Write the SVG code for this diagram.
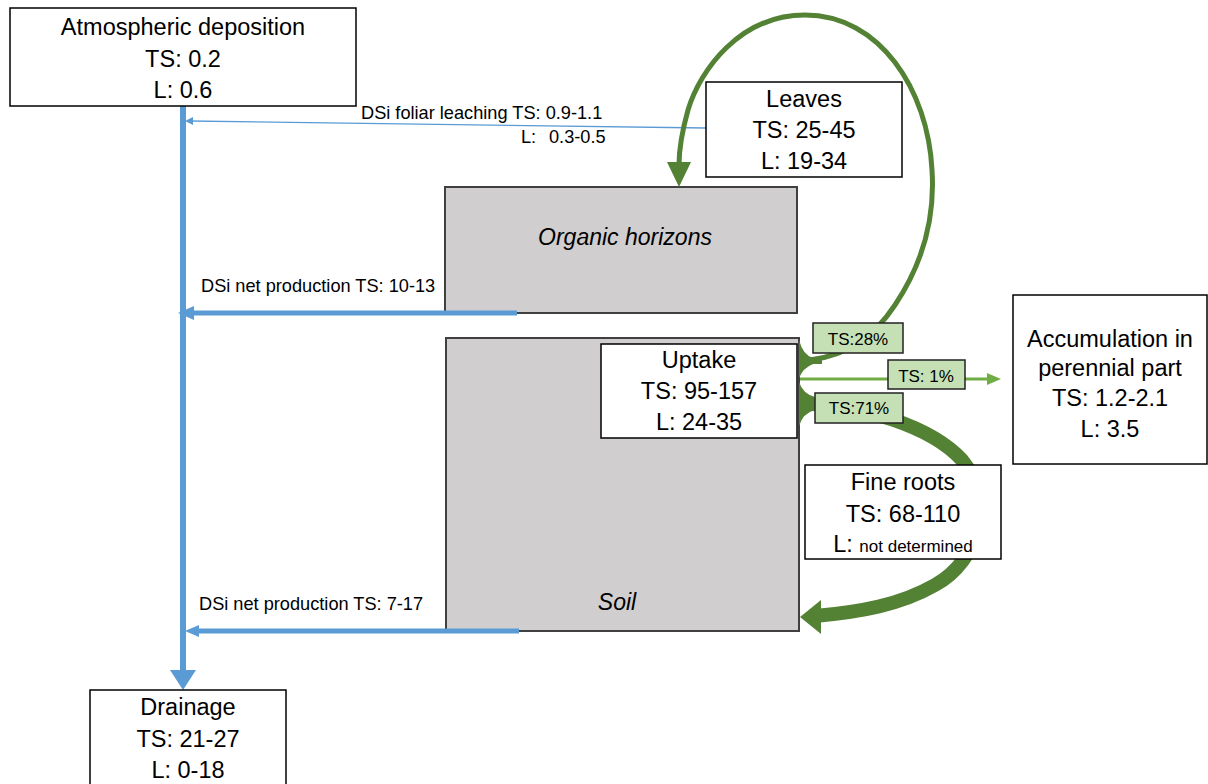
<svg xmlns="http://www.w3.org/2000/svg" width="1208" height="784" viewBox="0 0 1208 784">
<defs>
<style>
text{font-family:"Liberation Sans",Arial,sans-serif;fill:#000;}
.big{font-size:23.5px;text-anchor:middle;}
.it{font-size:23px;text-anchor:middle;font-style:italic;}
.sm{font-size:18.2px;}
.lbl{font-size:17px;text-anchor:middle;}
.box{fill:#fff;stroke:#000;stroke-width:1.5;}
.gray{fill:#d0cece;stroke:#404040;stroke-width:2;}
.tag{fill:#c5e0b4;stroke:#222;stroke-width:1.5;}
.blue{stroke:#5b9bd5;fill:none;}
.green{stroke:#548235;fill:none;}
</style>
</defs>
<rect width="1208" height="784" fill="#fff"/>
<g id="organic-horizons">
<rect class="gray" x="445" y="187" width="352" height="126"/>
<text class="it" x="625" y="245">Organic horizons</text>
</g>
<g id="soil">
<rect class="gray" x="446" y="338" width="353" height="293"/>
<text class="it" x="617" y="610">Soil</text>
</g>
<g id="connectors">
<line class="blue" x1="183" y1="106" x2="183" y2="672" stroke-width="6"/>
<polygon points="170,670 196,670 183,690" fill="#5b9bd5"/>
<line class="blue" x1="706" y1="128" x2="190" y2="121" stroke-width="1.3"/>
<polygon points="185,121 193,117 193,125" fill="#5b9bd5"/>
<line class="blue" x1="517" y1="313" x2="188" y2="313" stroke-width="5"/>
<polygon points="178,313 194,306 194,320" fill="#5b9bd5"/>
<line class="blue" x1="519" y1="631" x2="193" y2="631" stroke-width="5"/>
<polygon points="185,631 199,625 199,637" fill="#5b9bd5"/>
<path class="green" stroke-width="5" d="M 810 360 C 850 355 875 335 895 305 C 925 260 935 215 932 170 C 928 90 880 15 805 15 C 740 15 700 70 688 110 C 681 135 679 150 679 165"/>
<polygon points="667,162 691,162 679,187" fill="#548235"/>
<path fill="#548235" d="M 799 340 Q 803 355 813 358 L 822 358 L 822 364 L 813 364 Q 803 368 799 378 Z"/>
<path fill="#548235" d="M 799 382 Q 803 394 815 397 L 825 398 L 825 410 L 815 410 Q 803 413 799 426 Z"/>
<path class="green" stroke-width="14" d="M 812 404 C 860 406 930 425 962 460 C 995 500 980 560 935 585 C 900 605 860 612 815 616"/>
<polygon points="800,617 821,600 821,634" fill="#548235"/>
<line x1="800" y1="379" x2="990" y2="379" stroke="#70ad47" stroke-width="3"/>
<polygon points="1001,379 987,373 987,385" fill="#70ad47"/>
</g>
<g id="atmospheric-deposition">
<rect class="box" x="10" y="8" width="346" height="98"/>
<text class="big" x="183" y="35">Atmospheric deposition</text>
<text class="big" x="183" y="67">TS: 0.2</text>
<text class="big" x="183" y="98">L: 0.6</text>
</g>
<g id="leaves">
<rect class="box" x="706" y="82" width="196" height="95"/>
<text class="big" x="804" y="107">Leaves</text>
<text class="big" x="804" y="138">TS: 25-45</text>
<text class="big" x="804" y="169">L: 19-34</text>
</g>
<g id="uptake">
<rect class="box" x="601" y="344" width="196" height="94"/>
<text class="big" x="699" y="368">Uptake</text>
<text class="big" x="699" y="399">TS: 95-157</text>
<text class="big" x="699" y="430">L: 24-35</text>
</g>
<g id="accumulation">
<rect class="box" x="1013" y="295" width="194" height="169"/>
<text class="big" x="1110" y="347">Accumulation in</text>
<text class="big" x="1110" y="376">perennial part</text>
<text class="big" x="1110" y="406">TS: 1.2-2.1</text>
<text class="big" x="1110" y="437">L: 3.5</text>
</g>
<g id="fine-roots">
<rect class="box" x="805" y="465" width="196" height="94"/>
<text class="big" x="903" y="490">Fine roots</text>
<text class="big" x="903" y="522">TS: 68-110</text>
<text class="big" x="903" y="552">L: <tspan font-size="17px">not determined</tspan></text>
</g>
<g id="drainage">
<rect class="box" x="90" y="690" width="196" height="100"/>
<text class="big" x="188" y="715">Drainage</text>
<text class="big" x="188" y="747">TS: 21-27</text>
<text class="big" x="188" y="778">L: 0-18</text>
</g>
<g id="labels">
<text class="sm" x="361" y="119">DSi foliar leaching TS: 0.9-1.1</text>
<text class="sm" x="521" y="143">L:<tspan x="549">0.3-0.5</tspan></text>
<text class="sm" x="201" y="292">DSi net production TS: 10-13</text>
<text class="sm" x="199" y="610">DSi net production TS: 7-17</text>
<rect class="tag" x="813" y="323" width="90" height="30"/>
<text class="lbl" x="858" y="345">TS:28%</text>
<rect class="tag" x="888" y="360" width="77" height="29"/>
<text class="lbl" x="926" y="382">TS: 1%</text>
<rect class="tag" x="815" y="393" width="88" height="30"/>
<text class="lbl" x="859" y="414">TS:71%</text>
</g>
</svg>
